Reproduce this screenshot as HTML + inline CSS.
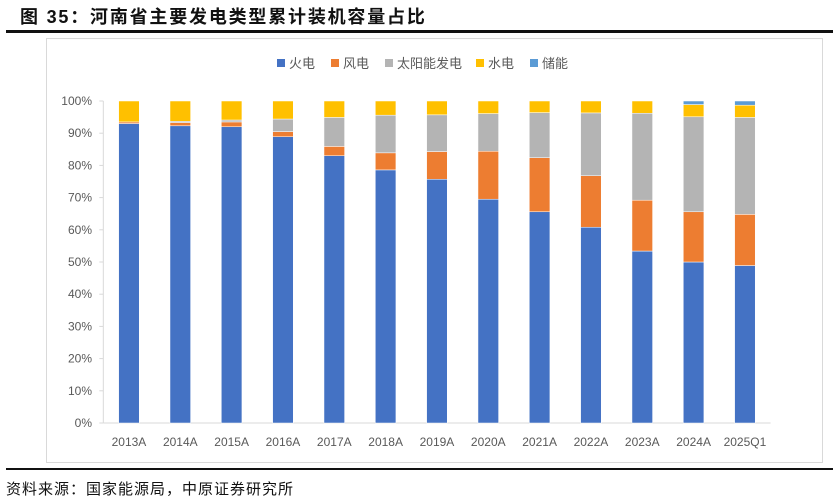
<!DOCTYPE html>
<html><head><meta charset="utf-8">
<style>
body{margin:0;width:839px;height:503px;background:#fff;overflow:hidden;font-family:"Liberation Sans","Noto Sans CJK SC",sans-serif;}
.title{position:absolute;left:20px;top:3px;font-size:18px;font-weight:bold;letter-spacing:1.8px;color:#111;font-family:"Liberation Sans","Noto Sans CJK SC",sans-serif;}
.rule{position:absolute;left:6px;width:827px;background:#111;}
.src{position:absolute;left:6px;top:478px;font-size:15px;color:#111;letter-spacing:1px;}
</style></head><body>
<div class="title">图 35：河南省主要发电类型累计装机容量占比</div>
<div class="rule" style="top:30px;height:3px"></div>
<div class="rule" style="top:468px;height:2px"></div>
<div class="src">资料来源：国家能源局，中原证券研究所</div>
<svg id="chart" width="839" height="503" style="position:absolute;left:0;top:0">
<rect x="46.5" y="38.5" width="776" height="424" fill="none" stroke="#d9d9d9"/>
</svg>
<script>
const categories=["2013A","2014A","2015A","2016A","2017A","2018A","2019A","2020A","2021A","2022A","2023A","2024A","2025Q1"];
const seriesNames=["火电","风电","太阳能发电","水电","储能"];
const thermal=[93.0,92.3,92.0,88.9,83.0,78.6,75.7,69.5,65.6,60.8,53.4,50.0,48.9];
const wind=[0.5,1.0,1.5,1.6,2.9,5.3,8.6,14.9,16.8,16.0,15.8,15.6,15.9];
const solar=[0,0.4,0.6,3.9,9.0,11.7,11.4,11.7,14.0,19.5,27.0,29.5,30.1];
const hydro=[6.5,6.3,5.9,5.6,5.1,4.4,4.3,3.9,3.6,3.7,3.8,3.8,3.8];
const storage=[0,0,0,0,0,0,0,0,0,0,0,1.1,1.3];
const yTicks=[0,10,20,30,40,50,60,70,80,90,100];
const colors=["#4472c4","#ed7d31","#b4b4b4","#ffc000","#5b9bd5"];
const svg=document.getElementById('chart');
const NS="http://www.w3.org/2000/svg";
const L=103.3,R=770.6,T=101,B=423;
const bw=(R-L)/categories.length;
const y=v=>B-(v/100)*(B-T);
const xc=i=>L+bw*(i+0.5);
function mk(tag,attrs){const e=document.createElementNS(NS,tag);for(const k in attrs)e.setAttribute(k,attrs[k]);svg.appendChild(e);return e;}
const ax=mk('line',{x1:L,x2:L,y1:T,y2:B,stroke:'#d9d9d9'});


const bx=mk('line',{x1:L,x2:R,y1:B,y2:B,stroke:'#d9d9d9'});


yTicks.forEach(t=>{
 const tk=mk('line',{x1:L-4,x2:L,y1:y(t),y2:y(t),stroke:'#d9d9d9'});
 
 
 const tx=mk('text',{x:92,y:y(t)+4,'text-anchor':'end','font-size':'12','fill':'#595959'});
 tx.textContent=t+'%';
 
 
});
const series=[thermal,wind,solar,hydro,storage];
const names=['bar-thermal','bar-wind','bar-solar','bar-hydro','bar-storage'];
categories.forEach((c,i)=>{
 let acc=0;
 series.forEach((s,k)=>{
  const v=s[i];
  if(v>0){
   const r=mk('rect',{x:xc(i)-10.3,width:20.6,y:y(acc+v),height:y(acc)-y(acc+v),fill:colors[k],stroke:'#fff','stroke-width':0.5});
   
   
  }
  acc+=v;
 });
 const tx=mk('text',{x:xc(i),y:446,'text-anchor':'middle','font-size':'12','fill':'#595959'});
 tx.textContent=c;
 
 
});
const lx=[277,331,385,476,530];
seriesNames.forEach((n,k)=>{
 const r=mk('rect',{x:lx[k],y:59,width:8,height:8,fill:colors[k]});
 
 
 const t=mk('text',{x:lx[k]+12,y:68,'font-size':'13','fill':'#595959'});
 t.textContent=n;
 
 
});
</script>
</body></html>
